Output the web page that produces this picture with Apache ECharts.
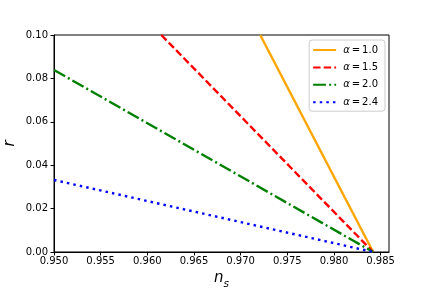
<!DOCTYPE html>
<html>
<head>
<meta charset="utf-8">
<script src="https://cdn.jsdelivr.net/npm/echarts@6/dist/echarts.min.js"></script>
<style>html,body{margin:0;padding:0;background:#fff}#c{width:432px;height:288px}</style>
</head>
<body>
<div id="c"></div>
<script>
// Data
var seriesNames = ['α=1.0', 'α=1.5', 'α=2.0', 'α=2.4'];
var alpha10 = [[0.9721, 0.100], [0.9842, 0.0]];
var alpha15 = [[0.9615, 0.100], [0.9842, 0.0]];
var alpha20 = [[0.9500, 0.0839], [0.9842, 0.0]];
var alpha24 = [[0.9500, 0.0332], [0.9842, 0.0]];
var xTicks = [0.950, 0.955, 0.960, 0.965, 0.970, 0.975, 0.980, 0.985];
var yTicks = [0.00, 0.02, 0.04, 0.06, 0.08, 0.10];

var font = 'DejaVu Sans';
var chart = echarts.init(document.getElementById('c'), null, {renderer: 'canvas'});
var lw = 2.4;
function ser(name, data, color, type) {
  return {
    name: name, type: 'line', data: data, symbol: 'none', showSymbol: false,
    lineStyle: {color: color, width: lw, type: type, cap: 'butt'},
    itemStyle: {color: color}, clip: true, animation: false
  };
}
chart.setOption({
  animation: false,
  backgroundColor: '#fff',
  grid: {left: 54, right: 43, top: 35, bottom: 36, show: true, borderColor: '#000', borderWidth: 1,
    backgroundColor: 'transparent', containLabel: false, outerBoundsMode: 'none'},
  xAxis: {
    type: 'value', min: 0.95, max: 0.9859, interval: 0.005,
    name: '{n|n}{s|s}', nameLocation: 'middle', nameGap: 19, nameMoveOverlap: false,
    nameTextStyle: {rich: {
      n: {fontFamily: font, fontSize: 15, fontStyle: 'italic', color: '#000', verticalAlign: 'top'},
      s: {fontFamily: font, fontSize: 10.5, fontStyle: 'italic', color: '#000', verticalAlign: 'top', padding: [8, 0, 0, 0]}
    }},
    axisLine: {show: true, lineStyle: {color: '#000', width: 1}},
    axisTick: {show: true, length: 3.5, lineStyle: {color: '#000'}, customValues: xTicks},
    axisLabel: {fontFamily: font, fontSize: 10, color: '#000', margin: 4, customValues: xTicks,
      formatter: function (v) { return v.toFixed(3); }},
    splitLine: {show: false}
  },
  yAxis: {
    type: 'value', min: 0, max: 0.1, interval: 0.02,
    name: 'r', nameLocation: 'middle', nameGap: 36, nameRotate: 90, nameMoveOverlap: false,
    nameTextStyle: {fontFamily: font, fontSize: 15, fontStyle: 'italic', color: '#000'},
    axisLine: {show: true, lineStyle: {color: '#000', width: 1}},
    axisTick: {show: true, length: 3.5, lineStyle: {color: '#000'}, customValues: yTicks},
    axisLabel: {fontFamily: font, fontSize: 10, color: '#000', margin: 6, customValues: yTicks,
      formatter: function (v) { return v.toFixed(2); }},
    splitLine: {show: false}
  },
  legend: {
    orient: 'vertical', right: 47, top: 40,
    backgroundColor: 'rgba(255,255,255,0.8)', borderColor: '#ccc', borderWidth: 1, borderRadius: 3,
    padding: [5, 7, 4, 3], itemGap: 7.4, itemWidth: 23, itemHeight: 10,
    itemStyle: {opacity: 0},
    data: seriesNames,
    formatter: function (name) { return '{a|α}{b|\u2009=\u2009' + name.slice(2) + '}'; },
    textStyle: {fontFamily: font, fontSize: 10, color: '#000', padding: [0, 0, 0, 2], rich: {
      a: {fontFamily: font, fontSize: 10, fontStyle: 'italic', color: '#000'},
      b: {fontFamily: font, fontSize: 10, color: '#000'}
    }}
  },
  series: [
    ser(seriesNames[0], alpha10, '#ffa500', 'solid'),
    ser(seriesNames[1], alpha15, '#ff0000', [7.4, 3.2]),
    ser(seriesNames[2], alpha20, '#008000', [12.8, 3.2, 2, 3.2]),
    ser(seriesNames[3], alpha24, '#0000ff', [2.5, 4.1])
  ]
});
</script>
</body>
</html>
